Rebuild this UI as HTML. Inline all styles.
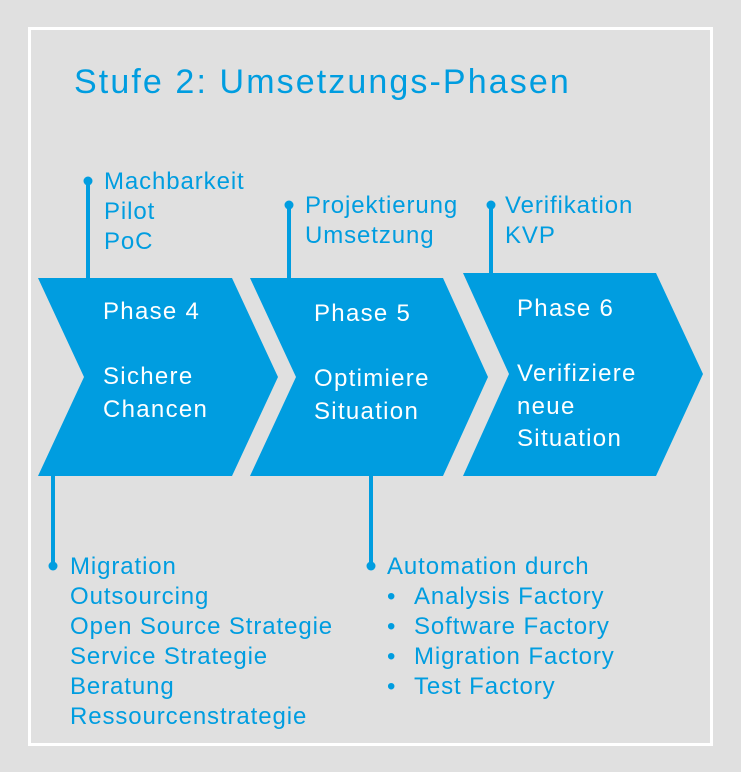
<!DOCTYPE html>
<html><head><meta charset="utf-8"><style>
html,body{margin:0;padding:0;background:#e0e0e0}
svg{display:block}
text{font-family:"Liberation Sans",sans-serif;fill:#009de0}
.w{fill:#fff}
</style></head><body>
<svg width="741" height="772" viewBox="0 0 741 772">
<rect width="741" height="772" fill="#e0e0e0"/>
<rect x="29.5" y="28.5" width="682" height="716" fill="none" stroke="#fff" stroke-width="3"/>
<text x="74" y="93" font-size="34" letter-spacing="2.1">Stufe 2: Umsetzungs-Phasen</text>
<g fill="#009de0" stroke="none">
<polygon points="38,278 232,278 278,377 232,476 38,476 84,377"/>
<polygon points="250,278 443,278 488,377 443,476 250,476 296,377"/>
<polygon points="463,273 656,273 703,374 656,476 463,476 509,374"/>
<rect x="86" y="181" width="4" height="97"/><circle cx="88" cy="181" r="4.5"/>
<rect x="287" y="205" width="4" height="73"/><circle cx="289" cy="205" r="4.5"/>
<rect x="489" y="205" width="4" height="68"/><circle cx="491" cy="205" r="4.5"/>
<rect x="51" y="476" width="4" height="90"/><circle cx="53" cy="566" r="4.5"/>
<rect x="369" y="476" width="4" height="90"/><circle cx="371" cy="566" r="4.5"/>
</g>
<g font-size="24" letter-spacing="0.9">
<text x="104" y="189">Machbarkeit</text><text x="104" y="219">Pilot</text><text x="104" y="249">PoC</text>
<text x="305" y="213">Projektierung</text><text x="305" y="243">Umsetzung</text>
<text x="505" y="213">Verifikation</text><text x="505" y="243">KVP</text>
<text x="70" y="574">Migration</text><text x="70" y="604">Outsourcing</text><text x="70" y="634">Open Source Strategie</text>
<text x="70" y="664">Service Strategie</text><text x="70" y="694">Beratung</text><text x="70" y="724">Ressourcenstrategie</text>
<text x="387" y="574">Automation durch</text>
<text x="387" y="604">•</text><text x="414" y="604">Analysis Factory</text>
<text x="387" y="634">•</text><text x="414" y="634">Software Factory</text>
<text x="387" y="664">•</text><text x="414" y="664">Migration Factory</text>
<text x="387" y="694">•</text><text x="414" y="694">Test Factory</text>
</g>
<g font-size="24" letter-spacing="1.3">
<text class="w" x="103" y="319">Phase 4</text>
<text class="w" x="103" y="384">Sichere</text><text class="w" x="103" y="417">Chancen</text>
<text class="w" x="314" y="321">Phase 5</text>
<text class="w" x="314" y="386">Optimiere</text><text class="w" x="314" y="419">Situation</text>
<text class="w" x="517" y="316">Phase 6</text>
<text class="w" x="517" y="381">Verifiziere</text><text class="w" x="517" y="414">neue</text><text class="w" x="517" y="446">Situation</text>
</g>
</svg>
</body></html>
